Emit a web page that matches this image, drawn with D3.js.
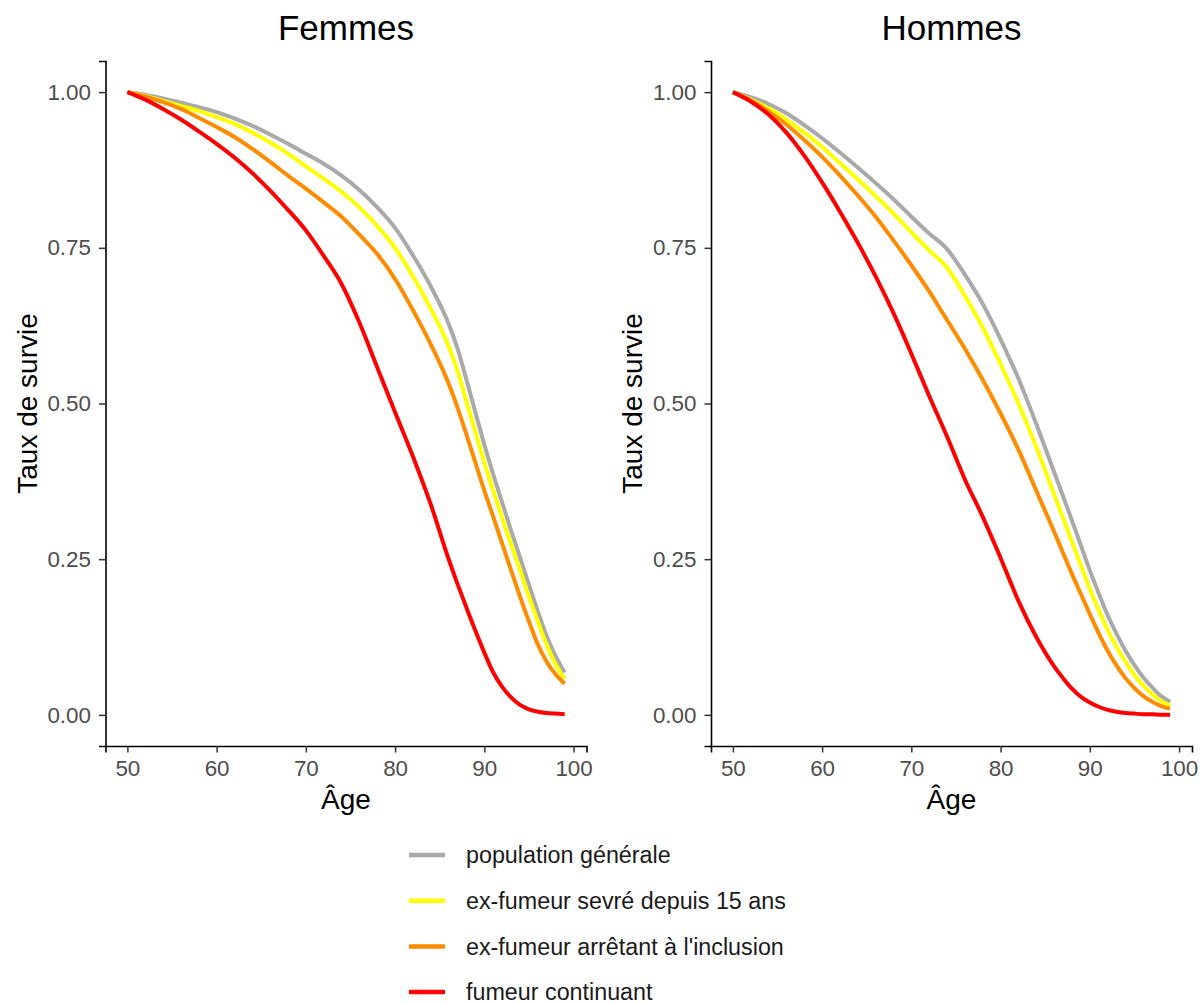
<!DOCTYPE html>
<html>
<head>
<meta charset="utf-8">
<script src="https://cdn.jsdelivr.net/npm/d3@7"></script>
<style>
  body { margin: 0; background: #fff; }
  svg { font-family: "Liberation Sans", Arial, sans-serif; }
</style>
</head>
<body>
<script>
const ages = [50, 52, 54, 56, 58, 60, 62, 64, 66, 68, 70, 72, 74, 76, 78, 80, 82, 84,
  86, 87, 88, 89, 90, 91, 92, 93, 94, 95, 96, 97, 98, 99];

// Femmes
const femmesGenerale = [1.000, 0.996, 0.990, 0.983, 0.976, 0.968, 0.958, 0.946, 0.932, 0.917, 0.901, 0.885, 0.866, 0.843, 0.815, 0.782, 0.738, 0.688,
  0.628, 0.588, 0.538, 0.486, 0.434, 0.386, 0.341, 0.296, 0.253, 0.209, 0.166, 0.126, 0.094, 0.068];
const femmesSevre = [1.000, 0.994, 0.986, 0.978, 0.970, 0.960, 0.949, 0.935, 0.919, 0.901, 0.881, 0.861, 0.840, 0.815, 0.785, 0.750, 0.704, 0.652,
  0.592, 0.552, 0.503, 0.454, 0.405, 0.360, 0.316, 0.274, 0.232, 0.190, 0.150, 0.112, 0.081, 0.058];
const femmesArret = [1.000, 0.993, 0.984, 0.973, 0.959, 0.944, 0.928, 0.909, 0.888, 0.866, 0.845, 0.823, 0.800, 0.771, 0.740, 0.700, 0.650, 0.595,
  0.532, 0.493, 0.450, 0.405, 0.360, 0.318, 0.275, 0.232, 0.190, 0.150, 0.113, 0.085, 0.065, 0.050];
const femmesContinuant = [1.000, 0.988, 0.973, 0.956, 0.937, 0.917, 0.895, 0.870, 0.842, 0.811, 0.778, 0.737, 0.692, 0.630, 0.558, 0.486, 0.415, 0.338,
  0.250, 0.210, 0.172, 0.135, 0.100, 0.068, 0.045, 0.028, 0.016, 0.009, 0.005, 0.003, 0.002, 0.001];

// Hommes
const hommesGenerale = [1.000, 0.992, 0.981, 0.966, 0.947, 0.926, 0.903, 0.879, 0.854, 0.828, 0.800, 0.773, 0.748, 0.707, 0.660, 0.603, 0.540, 0.467,
  0.390, 0.351, 0.312, 0.272, 0.232, 0.195, 0.160, 0.130, 0.103, 0.080, 0.060, 0.044, 0.030, 0.021];
const hommesSevre = [1.000, 0.988, 0.974, 0.956, 0.935, 0.912, 0.886, 0.860, 0.833, 0.805, 0.775, 0.746, 0.718, 0.673, 0.622, 0.563, 0.500, 0.430,
  0.354, 0.316, 0.278, 0.240, 0.202, 0.168, 0.136, 0.109, 0.085, 0.064, 0.047, 0.033, 0.022, 0.015];
const hommesArret = [1.000, 0.987, 0.969, 0.948, 0.923, 0.896, 0.866, 0.834, 0.800, 0.762, 0.722, 0.680, 0.634, 0.588, 0.538, 0.484, 0.426, 0.360,
  0.294, 0.260, 0.226, 0.194, 0.162, 0.131, 0.103, 0.079, 0.059, 0.043, 0.030, 0.021, 0.014, 0.010];
const hommesContinuant = [1.000, 0.985, 0.964, 0.935, 0.898, 0.855, 0.808, 0.758, 0.704, 0.645, 0.580, 0.512, 0.447, 0.378, 0.318, 0.252, 0.183, 0.125,
  0.078, 0.059, 0.042, 0.029, 0.020, 0.013, 0.008, 0.005, 0.003, 0.002, 0.001, 0.001, 0.000, 0.000];

const groupLabels = ['population générale', 'ex-fumeur sevré depuis 15 ans', "ex-fumeur arrêtant à l'inclusion", 'fumeur continuant'];
const groupColors = ['#A9A9A9', '#FFFF00', '#FF8C00', '#FF0000'];

const panelTitles = ['Femmes', 'Hommes'];
const xTicks = [50, 60, 70, 80, 90, 100];
const yTicks = [0, 0.25, 0.5, 0.75, 1];

const panels = [
  { title: panelTitles[0], left: 105.5, series: [femmesGenerale, femmesSevre, femmesArret, femmesContinuant] },
  { title: panelTitles[1], left: 711, series: [hommesGenerale, hommesSevre, hommesArret, hommesContinuant] },
];

const W = 1203;
const H = 1004;
const panelWidth = 481;
const plotTop = 61;
const plotBottom = 746;

const svg = d3.select('body')
  .append('svg')
  .attr('width', W)
  .attr('height', H);

// ggplot style: 5% expansion on both axes
const xExtent = [50, 99];
const xPad = (xExtent[1] - xExtent[0]) * 0.05;
const yPad = 0.05;

panels.forEach((p) => {
  const xScale = d3.scaleLinear()
    .domain([xExtent[0] - xPad, xExtent[1] + xPad])
    .range([p.left, p.left + panelWidth]);

  const yScale = d3.scaleLinear()
    .domain([0 - yPad, 1 + yPad])
    .range([plotBottom, plotTop]);

  const g = svg.append('g');

  const line = d3.line()
    .x((d) => xScale(d[0]))
    .y((d) => yScale(d[1]))
    .curve(d3.curveMonotoneX);

  p.series.forEach((vals, i) => {
    g.append('path')
      .datum(ages.map((a, k) => [a, vals[k]]))
      .attr('fill', 'none')
      .attr('stroke', groupColors[i])
      .attr('stroke-width', 4)
      .attr('d', line);
  });

  const xAxis = g.append('g')
    .attr('transform', `translate(0, ${plotBottom})`)
    .call(d3.axisBottom(xScale).tickValues(xTicks).tickSize(6.5).tickPadding(7.5).tickFormat(d3.format('d')));

  const yAxis = g.append('g')
    .attr('transform', `translate(${p.left}, 0)`)
    .call(d3.axisLeft(yScale).tickValues(yTicks).tickSize(6.5).tickPadding(8).tickFormat(d3.format('.2f')));

  [xAxis, yAxis].forEach((ax) => {
    ax.select('.domain').attr('stroke', '#000').attr('stroke-width', 1.6);
    ax.selectAll('.tick line').attr('stroke', '#333').attr('stroke-width', 1.5);
    ax.selectAll('.tick text')
      .attr('fill', '#4D4D4D')
      .style('font-size', '22.4px')
      .style('font-family', '"Liberation Sans", Arial, sans-serif');
  });

  g.append('text')
    .attr('x', p.left + panelWidth / 2)
    .attr('y', 40)
    .attr('text-anchor', 'middle')
    .style('font-size', '35px')
    .attr('fill', '#000')
    .text(p.title);

  g.append('text')
    .attr('x', p.left + panelWidth / 2)
    .attr('y', 809)
    .attr('text-anchor', 'middle')
    .style('font-size', '28px')
    .attr('fill', '#000')
    .text('Âge');

  g.append('text')
    .attr('transform', `translate(${p.left - 69}, ${(plotTop + plotBottom) / 2}) rotate(-90)`)
    .attr('text-anchor', 'middle')
    .style('font-size', '28px')
    .attr('fill', '#000')
    .text('Taux de survie');
});

// legend
const legend = svg.append('g');
groupLabels.forEach((label, i) => {
  const y = 855 + i * 45.7;
  legend.append('line')
    .attr('x1', 409)
    .attr('x2', 445)
    .attr('y1', y)
    .attr('y2', y)
    .attr('stroke', groupColors[i])
    .attr('stroke-width', 4.5);
  legend.append('text')
    .attr('x', 466)
    .attr('y', y)
    .attr('dy', '0.35em')
    .style('font-size', '23.3px')
    .attr('fill', '#1A1A1A')
    .text(label);
});
</script>
</body>
</html>
